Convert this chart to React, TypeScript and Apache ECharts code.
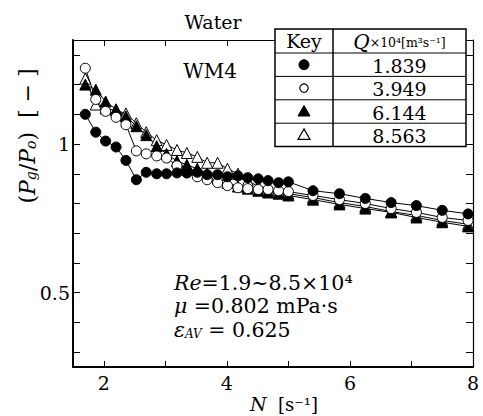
import React, { useEffect, useRef } from "react";
import * as echarts from "echarts";

// Impeller speed N [s^-1]
const N_VALUES = [1.70, 1.87, 2.03, 2.20, 2.36, 2.53, 2.69, 2.86, 3.02, 3.19, 3.35, 3.52, 3.68, 3.85, 4.01, 4.18, 4.34, 4.51, 4.67, 4.84, 5.00, 5.40, 5.83, 6.25, 6.67, 7.08, 7.50, 7.92];

// Pg/P0 for each gas flow rate Q x10^4 [m3 s-1]
const Q1839 = [1.10, 1.04, 1.01, 0.99, 0.945, 0.88, 0.905, 0.90, 0.90, 0.903, 0.903, 0.905, 0.897, 0.897, 0.89, 0.893, 0.887, 0.883, 0.877, 0.87, 0.873, 0.843, 0.833, 0.817, 0.803, 0.793, 0.777, 0.765];
const Q3949 = [1.255, 1.15, 1.11, 1.09, 1.065, 0.977, 0.967, 0.96, 0.953, 0.927, 0.903, 0.89, 0.88, 0.87, 0.86, 0.853, 0.85, 0.847, 0.847, 0.843, 0.84, 0.827, 0.813, 0.80, 0.783, 0.77, 0.753, 0.743];
const Q6144 = [1.20, 1.183, 1.143, 1.117, 1.093, 1.06, 1.03, 0.993, 0.967, 0.943, 0.93, 0.917, 0.90, 0.887, 0.87, 0.857, 0.85, 0.843, 0.837, 0.833, 0.827, 0.813, 0.797, 0.783, 0.77, 0.753, 0.737, 0.723];
const Q8563 = [1.22, 1.133, 1.12, 1.113, 1.103, 1.07, 1.04, 1.013, 0.997, 0.98, 0.97, 0.957, 0.937, 0.937, 0.917, 0.90, 0.877, 0.857, 0.85, 0.843, 0.833, 0.82, 0.803, 0.79, 0.773, 0.76, 0.743, 0.73];

const KEY_LABELS = ["1.839", "3.949", "6.144", "8.563"];

const X_TICKS = [2, 3, 4, 5, 6, 7, 8];
const X_LABELS = [2, 4, 6, 8];
const Y_TICKS = [0.3, 0.4, 0.5, 0.6, 0.7, 0.8, 0.9, 1.0, 1.1, 1.2, 1.3];
const Y_LABELS = [0.5, 1];

const FONT = "DejaVu Serif";

const R = (size: number, italic = false) => ({
  fontFamily: FONT,
  fontStyle: italic ? "italic" : "normal",
  fontSize: size,
  fill: "#000",
  color: "#000",
});

export default function App() {
  const ref = useRef<HTMLDivElement>(null);

  useEffect(() => {
    if (!ref.current) return;
    const chart = echarts.init(ref.current, undefined, { renderer: "svg" });

    const zip = (ys: number[]) => N_VALUES.map((n, i) => [n, ys[i]]);

    const mkSeries = (name: string, ys: number[], symbol: string, filled: boolean, size: number) => ({
      name,
      type: "line",
      data: zip(ys),
      symbol,
      symbolSize: size,
      showAllSymbol: true,
      lineStyle: { color: "#000", width: 1 },
      itemStyle: { color: filled ? "#000" : "#fff", borderColor: "#000", borderWidth: 1 },
      emphasis: { disabled: true },
    });

    const axisX = (pos: "bottom" | "top") => ({
      type: "value",
      position: pos,
      min: 1.5,
      max: 8,
      axisLine: { show: true, onZero: false, lineStyle: { color: "#000", width: pos === "bottom" ? 2 : 1.2 } },
      axisTick: { show: true, inside: true, length: 6, customValues: X_TICKS, lineStyle: { color: "#000", width: 1 } },
      axisLabel: pos === "bottom"
        ? { show: true, customValues: X_LABELS, margin: 6, formatter: (v: number) => `{n|${v}}`, rich: { n: R(19) } }
        : { show: false },
      splitLine: { show: false },
    });

    const axisY = (pos: "left" | "right") => ({
      type: "value",
      position: pos,
      min: 0.25,
      max: 1.35,
      axisLine: { show: true, onZero: false, lineStyle: { color: "#000", width: pos === "left" ? 2 : 1.2 } },
      axisTick: { show: true, inside: true, length: 7, customValues: Y_TICKS, lineStyle: { color: "#000", width: 1 } },
      axisLabel: pos === "left"
        ? { show: true, customValues: Y_LABELS, margin: 3, rich: { n: R(19) },
            formatter: (v: number) => `{n|${Math.abs(v - 1) < 1e-9 ? "1" : String(v)}}` }
        : { show: false },
      splitLine: { show: false },
    });

    // key table
    const tL = 275, tR = 466, tT = 29, colX = 333;
    const rowH = 23.4;
    const rows = [tT + 24, tT + 24 + rowH, tT + 24 + 2 * rowH, tT + 24 + 3 * rowH];
    const tB = rows[3] + rowH;
    const keyCx = (tL + colX) / 2;
    const valCx = (colX + tR) / 2;
    const rowMid = (i: number) => rows[i] + rowH / 2;

    const tri = (cx: number, cy: number, s: number) => [
      [cx, cy - s * 0.6],
      [cx + s * 0.6, cy + s * 0.45],
      [cx - s * 0.6, cy + s * 0.45],
    ];

    const txt = (x: number, y: number, text: string, rich: any, align = "center", extra: any = {}) => ({
      type: "text", x, y, ...extra,
      style: { text, rich, align, verticalAlign: "middle" },
    });

    const tableEls: any[] = [
      { type: "rect", shape: { x: tL, y: tT, width: tR - tL, height: tB - tT }, style: { fill: "#fff", stroke: "#000", lineWidth: 1.5 }, z: 100 },
      { type: "line", shape: { x1: colX, y1: tT, x2: colX, y2: tB }, style: { stroke: "#000", lineWidth: 1.5 }, z: 101 },
      ...rows.map((y) => ({ type: "line", shape: { x1: tL, y1: y, x2: tR, y2: y }, style: { stroke: "#000", lineWidth: 1 }, z: 101 })),
      txt(keyCx, tT + 12, "{n|Key}", { n: R(19) }, "center", { z: 102 }),
      txt(valCx, tT + 13, "{q|Q}{s|×10⁴[m³s⁻¹]}", { q: R(20, true), s: R(12.5) }, "center", { z: 102 }),
      ...KEY_LABELS.map((t, i) => txt(valCx, rowMid(i) + 1, `{n|${t}}`, { n: R(19) }, "center", { z: 102 })),
      { type: "circle", shape: { cx: keyCx, cy: rowMid(0), r: 5 }, style: { fill: "#000", stroke: "#000" }, z: 102 },
      { type: "circle", shape: { cx: keyCx, cy: rowMid(1), r: 4.2 }, style: { fill: "#fff", stroke: "#000", lineWidth: 1.2 }, z: 102 },
      { type: "polygon", shape: { points: tri(keyCx, rowMid(2), 10) }, style: { fill: "#000", stroke: "#000" }, z: 102 },
      { type: "polygon", shape: { points: tri(keyCx, rowMid(3), 10) }, style: { fill: "#fff", stroke: "#000", lineWidth: 1.2 }, z: 102 },
    ];

    const sub = (size: number) => ({ ...R(size, true), padding: [8, 0, 0, 0] });

    const textEls: any[] = [
      txt(213, 22, "{n|Water}", { n: R(19) }),
      txt(210, 71, "{n|WM4}", { n: R(20) }),
      txt(174, 283, "{i|Re}{n|=1.9~8.5×10⁴}", { i: R(20.5, true), n: R(20.5) }, "left"),
      txt(174, 306, "{i|μ}{n| =0.802 mPa·s}", { i: R(20.5, true), n: R(20.5) }, "left"),
      txt(174, 330, "{i|ε}{s|AV}{n| = 0.625}", { i: R(20.5, true), s: sub(12), n: R(20.5) }, "left"),
      txt(284, 404, "{i|N}{n|  [s⁻¹]}", { i: R(19, true), n: R(18) }),
      txt(27, 136, "{n|(}{i|P}{s|g}{n|/}{i|P}{s|o}{n|)  [ − ]}", { i: R(22, true), s: sub(14), n: R(22) }, "center", { rotation: Math.PI / 2 }),
    ];

    chart.setOption({
      animation: false,
      backgroundColor: "#fff",
      textStyle: { fontFamily: FONT },
      grid: { left: 73, right: 10, top: 40, bottom: 49, show: false },
      xAxis: [axisX("bottom"), axisX("top")],
      yAxis: [axisY("left"), axisY("right")],
      series: [
        mkSeries("8.563", Q8563, "triangle", false, 11),
        mkSeries("6.144", Q6144, "triangle", true, 11),
        mkSeries("3.949", Q3949, "circle", false, 10),
        mkSeries("1.839", Q1839, "circle", true, 10),
      ],
      graphic: [...textEls, ...tableEls],
    });

    return () => chart.dispose();
  }, []);

  return <div ref={ref} style={{ position: "fixed", left: 0, top: 0, width: 483, height: 416, background: "#fff" }} />;
}
